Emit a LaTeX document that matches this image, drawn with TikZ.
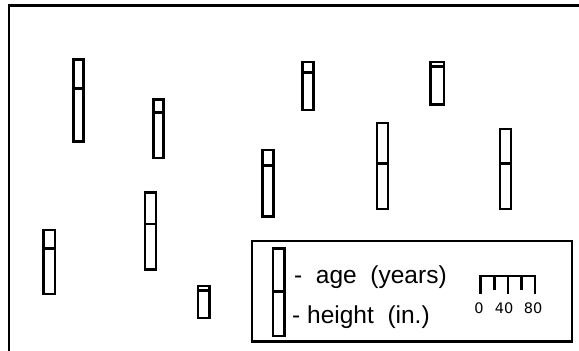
\documentclass[tikz,border=0pt]{standalone}
\usepackage{fontspec}
\setmainfont{Liberation Sans}
\newfontfamily\scalefont{DejaVu Sans}
\begin{document}
\begin{tikzpicture}[x=1pt,y=-1pt,
  frame/.style={line width=2.5pt,draw=black},
  glyphline/.style={line width=2.5pt,draw=black},
  legtext/.style={anchor=base west,inner sep=0pt,font=\fontsize{24.5}{28}\selectfont},
  scaletext/.style={anchor=north,inner sep=0pt,font=\scalefont\fontsize{14.5}{17}\selectfont}]
\useasboundingbox (0,0) rectangle (579,351);
\fill[white] (0,0) rectangle (579,351);
% outer frame (cropped at right and bottom)
\coordinate (fbl) at (9,360);
\coordinate (ftl) at (9,5.5);
\coordinate (ftr) at (590,5.5);
\draw[frame] (fbl) -- (ftl) -- (ftr);
% glyphs: left x, right x, top y, divider y, bottom y
\newcommand\glyphbox[5]{%
  \draw[glyphline] (#1,#3) rectangle (#2,#5);
  \draw[glyphline] (#1,#4) -- (#2,#4);}
\glyphbox{73.5}{83.5}{59.5}{88.7}{141.5}
\glyphbox{153.5}{163.5}{99.5}{112.7}{157.8}
\glyphbox{262.5}{273.5}{150}{165.5}{216.5}
\glyphbox{302.5}{313.5}{62}{72.7}{110}
\glyphbox{430.5}{444}{62}{66.5}{104.5}
\glyphbox{377}{388}{123}{163.3}{209}
\glyphbox{500}{511}{129}{163.3}{209}
\glyphbox{43.5}{55}{230}{248.7}{294}
\glyphbox{145}{156}{192.5}{224}{269.5}
\glyphbox{198}{209.5}{286}{290.7}{318}
% legend box
\draw[frame] (252,241) rectangle (572,341.5);
\glyphbox{273}{284.5}{248.5}{291.3}{336}
\node[legtext] (age) at (294,283) {-~~age~~(years)};
\node[legtext] (hgt) at (292,323) {-~height~~(in.)};
% scale bar
\coordinate (s0) at (480.7,276);
\coordinate (s20) at (494.3,276);
\coordinate (s40) at (508,276);
\coordinate (s60) at (521.7,276);
\coordinate (s80) at (535,276);
\draw[line width=2.5pt] ([yshift=-18pt]s0) -- (s0) -- (s80) -- ([yshift=-18pt]s80);
\draw[line width=2.5pt] (s20) -- ([yshift=-14pt]s20);
\draw[line width=2.5pt] (s40) -- ([yshift=-18pt]s40);
\draw[line width=2.5pt] (s60) -- ([yshift=-14pt]s60);
\node[scaletext] (l0) at (479,302.5) {0};
\node[scaletext] (l40) at (504,302.5) {40};
\node[scaletext] (l80) at (533,302.5) {80};
\end{tikzpicture}
\end{document}
